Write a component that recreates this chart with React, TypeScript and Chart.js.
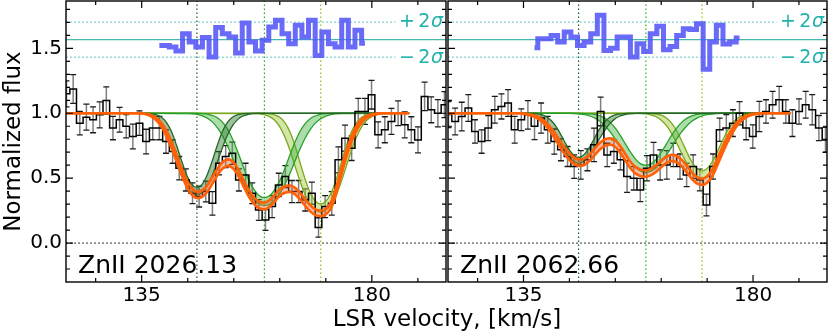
import React, { useEffect, useRef } from "react";
import { Chart, registerables } from "chart.js";

Chart.register(...registerables);

const FONT = "'DejaVu Sans', 'Liberation Sans', sans-serif";
Chart.defaults.font.family = FONT;
Chart.defaults.color = "#000";

// ---- axis ranges and ticks ----
const X_MIN = 120.2;
const X_MAX = 194.5;
const Y_MIN = -0.3;
const Y_MAX = 1.865;
const xMajorTicks = [135, 180];
const xMinorTicks = [126, 144, 153, 162, 171, 189];
const yMajorTicks = [0, 0.5, 1.0, 1.5];
const yMinorTicks = [-0.2, -0.1, 0.1, 0.2, 0.3, 0.4, 0.6, 0.7, 0.8, 0.9, 1.1, 1.2, 1.3, 1.4, 1.6, 1.7, 1.8];

const xTitle = "LSR velocity, [km/s]";
const yTitle = "Normalized flux";
const panelLabels = ["ZnII 2026.13", "ZnII 2062.66"];
const sigmaSigns = ["+", "\u2212"];

// ---- observed spectrum (pixel velocities, flux, 1-sigma error) ----
const velocity = [
  120.3, 121.6, 122.9, 124.19, 125.49, 126.79, 128.08, 129.38, 130.68, 131.97,
  133.27, 134.57, 135.86, 137.16, 138.45, 139.75, 141.05, 142.34, 143.64, 144.94,
  146.23, 147.53, 148.83, 150.12, 151.42, 152.72, 154.01, 155.31, 156.61, 157.9,
  159.2, 160.5, 161.79, 163.09, 164.38, 165.68, 166.98, 168.27, 169.57, 170.87,
  172.16, 173.46, 174.76, 176.05, 177.35, 178.65, 179.94, 181.24, 182.54, 183.83,
  185.13, 186.43, 187.72, 189.02, 190.32, 191.61, 192.91, 194.2, 195.5,
];
const fluxZn2026 = [
  1.15, 1.187, 0.924, 0.97, 0.95, 0.988, 1.099, 0.886, 0.95, 0.9,
  0.821, 0.924, 0.782, 0.886, 0.886, 0.782, 0.705, 0.577, 0.486, 0.384,
  0.358, 0.397, 0.306, 0.615, 0.666, 0.692, 0.486, 0.525, 0.384, 0.255,
  0.178, 0.281, 0.448, 0.512, 0.397, 0.397, 0.332, 0.384, 0.12, 0.281,
  0.306, 0.641, 0.808, 0.731, 1.014, 1.014, 1.143, 0.834, 0.873, 0.937,
  1.0, 0.911, 0.873, 0.795, 1.13, 1.027, 1.0, 1.066, 1.02,
];
const errZn2026 = [
  0.1, 0.11, 0.09, 0.1, 0.1, 0.1, 0.105, 0.09, 0.095, 0.09,
  0.095, 0.095, 0.095, 0.09, 0.09, 0.09, 0.09, 0.09, 0.085, 0.08,
  0.08, 0.08, 0.09, 0.09, 0.085, 0.085, 0.085, 0.09, 0.08, 0.08,
  0.08, 0.085, 0.09, 0.085, 0.085, 0.085, 0.085, 0.085, 0.075, 0.085,
  0.09, 0.1, 0.1, 0.095, 0.1, 0.1, 0.11, 0.1, 0.1, 0.1,
  0.095, 0.1, 0.1, 0.1, 0.11, 0.1, 0.105, 0.1, 0.1,
];
const fluxZn2062 = [
  0.99, 0.937, 0.975, 1.04, 0.86, 0.782, 0.886, 1.027, 1.053, 1.079,
  0.873, 0.95, 0.988, 0.9, 0.963, 0.873, 0.782, 0.718, 0.667, 0.589,
  0.602, 0.641, 0.757, 1.014, 0.679, 0.705, 0.641, 0.512, 0.499, 0.409,
  0.576, 0.679, 0.602, 0.602, 0.679, 0.589, 0.525, 0.589, 0.486, 0.293,
  0.589, 0.873, 0.886, 0.924, 1.0, 0.886, 0.821, 0.975, 1.014, 1.066,
  1.104, 1.014, 0.924, 1.014, 1.066, 1.027, 0.886, 0.795, 0.85,
];
const errZn2062 = [
  0.1, 0.103, 0.11, 0.103, 0.09, 0.09, 0.097, 0.103, 0.097, 0.103,
  0.103, 0.084, 0.11, 0.103, 0.116, 0.103, 0.097, 0.084, 0.077, 0.09,
  0.11, 0.084, 0.129, 0.11, 0.09, 0.09, 0.077, 0.122, 0.09, 0.09,
  0.097, 0.097, 0.116, 0.11, 0.09, 0.097, 0.09, 0.09, 0.084, 0.084,
  0.097, 0.09, 0.103, 0.103, 0.09, 0.09, 0.09, 0.116, 0.09, 0.103,
  0.103, 0.09, 0.103, 0.097, 0.103, 0.116, 0.097, 0.097, 0.1,
];

// ---- residuals (shifted to the top strip) ----
const residVelZn2026 = velocity.slice(14, 46);
const residZn2026 = [
  1.523, 1.523, 1.51, 1.479, 1.613, 1.549, 1.51, 1.583, 1.433, 1.66,
  1.613, 1.587, 1.464, 1.695, 1.549, 1.48, 1.562, 1.665, 1.716, 1.613,
  1.536, 1.678, 1.587, 1.716, 1.446, 1.626, 1.536, 1.51, 1.716, 1.51,
  1.639, 1.54,
];
const residVelZn2062 = velocity.slice(13, 45);
const residZn2062 = [
  1.505, 1.575, 1.575, 1.6, 1.549, 1.626, 1.587, 1.523, 1.549, 1.613,
  1.755, 1.484, 1.5, 1.587, 1.587, 1.433, 1.536, 1.475, 1.613, 1.67,
  1.49, 1.515, 1.6, 1.652, 1.645, 1.69, 1.34, 1.549, 1.678, 1.533,
  1.549, 1.58,
];
const sigmaLevels = [1.432, 1.567, 1.702];
const sigmaDottedEnd = 184.6;

// ---- component centres ----
const compCenters = [145.8, 159.0, 170.0];

// ---- total model band ----
const modelVel = [
  120.2, 134, 135, 136, 137, 138, 139, 140, 141, 142, 143, 144, 145, 146, 147, 148, 149,
  150, 151, 152, 153, 154, 155, 156, 157, 158, 159, 160, 161, 162, 163, 164, 165, 166,
  167, 168, 169, 170, 171, 172, 173, 174, 175, 176, 177, 178, 179, 180, 181, 182, 187.3,
];
const modelLoZn2026 = [
  1.0, 1.0, 0.997, 0.99, 0.972, 0.94, 0.89, 0.808, 0.715, 0.61, 0.505, 0.42, 0.365, 0.345,
  0.36, 0.405, 0.47, 0.535, 0.58, 0.595, 0.57, 0.51, 0.43, 0.355, 0.3, 0.268, 0.26, 0.278,
  0.32, 0.365, 0.388, 0.393, 0.375, 0.335, 0.285, 0.242, 0.215, 0.207, 0.221, 0.267, 0.375,
  0.52, 0.66, 0.778, 0.867, 0.928, 0.965, 0.984, 0.994, 1.0, 1.0,
];
const modelHiZn2026 = [
  1.0, 1.0, 0.999, 0.996, 0.984, 0.96, 0.92, 0.852, 0.765, 0.66, 0.555, 0.47, 0.415, 0.395,
  0.41, 0.455, 0.52, 0.585, 0.63, 0.645, 0.62, 0.56, 0.48, 0.405, 0.35, 0.318, 0.312, 0.332,
  0.37, 0.415, 0.438, 0.443, 0.425, 0.385, 0.335, 0.288, 0.259, 0.251, 0.265, 0.313, 0.425,
  0.57, 0.71, 0.822, 0.903, 0.952, 0.979, 0.992, 0.998, 1.0, 1.0,
];
const modelLoZn2062 = [
  1.0, 1.0, 0.996, 0.987, 0.975, 0.954, 0.92, 0.875, 0.815, 0.752, 0.69, 0.64, 0.607, 0.595,
  0.603, 0.635, 0.68, 0.723, 0.75, 0.757, 0.74, 0.695, 0.635, 0.575, 0.535, 0.515, 0.51, 0.523,
  0.55, 0.585, 0.615, 0.63, 0.623, 0.593, 0.545, 0.495, 0.459, 0.448, 0.465, 0.515, 0.6,
  0.692, 0.78, 0.854, 0.913, 0.952, 0.977, 0.99, 0.997, 1.0, 1.0,
];
const modelHiZn2062 = [
  1.0, 1.0, 0.998, 0.993, 0.985, 0.97, 0.944, 0.905, 0.855, 0.798, 0.74, 0.69, 0.657, 0.645,
  0.653, 0.685, 0.73, 0.773, 0.8, 0.807, 0.79, 0.745, 0.685, 0.625, 0.585, 0.565, 0.56, 0.573,
  0.6, 0.635, 0.665, 0.68, 0.673, 0.643, 0.595, 0.545, 0.509, 0.498, 0.515, 0.565, 0.65,
  0.738, 0.82, 0.886, 0.937, 0.968, 0.987, 0.996, 0.999, 1.0, 1.0,
];

// ---- individual components (lower / upper envelopes) ----
const comp1Vel = [
  133.8, 134.8, 135.8, 136.8, 137.8, 138.8, 139.8, 140.8, 141.8, 142.8, 143.8, 144.8, 145.8,
  146.8, 147.8, 148.8, 149.8, 150.8, 151.8, 152.8, 153.8, 154.8, 155.8, 156.8, 157.8, 187.3,
];
const comp2Vel = [
  134.5, 144, 145, 146, 147, 148, 149, 150, 151, 152, 153, 154, 155, 156, 157, 158, 159,
  160, 161, 162, 163, 164, 165, 166, 167, 168, 169, 170, 171, 172, 173, 174, 187.3,
];
const comp3Vel = [
  134.5, 157, 158, 159, 160, 161, 162, 163, 164, 165, 166, 167, 168, 169, 170, 171, 172,
  173, 174, 175, 176, 177, 178, 179, 180, 181, 182, 183, 187.3,
];

const c1LoZn2026 = [0.999, 0.997, 0.991, 0.979, 0.953, 0.907, 0.834, 0.737, 0.627, 0.522, 0.439, 0.387, 0.37, 0.387, 0.439, 0.522, 0.627, 0.737, 0.834, 0.907, 0.953, 0.979, 0.991, 0.997, 0.999, 1.0];
const c1HiZn2026 = [1.0, 1.0, 0.999, 0.997, 0.99, 0.972, 0.932, 0.861, 0.755, 0.634, 0.525, 0.452, 0.427, 0.452, 0.525, 0.634, 0.755, 0.861, 0.932, 0.972, 0.99, 0.997, 0.999, 1.0, 1.0, 1.0];
const c2LoZn2026 = [1.0, 0.998, 0.995, 0.989, 0.978, 0.958, 0.926, 0.877, 0.811, 0.728, 0.634, 0.538, 0.452, 0.381, 0.33, 0.299, 0.289, 0.299, 0.33, 0.381, 0.452, 0.538, 0.634, 0.728, 0.811, 0.877, 0.926, 0.958, 0.978, 0.989, 0.995, 0.998, 1.0];
const c2HiZn2026 = [1.0, 1.0, 1.0, 0.999, 0.997, 0.992, 0.981, 0.96, 0.922, 0.863, 0.78, 0.68, 0.575, 0.481, 0.409, 0.365, 0.35, 0.365, 0.409, 0.481, 0.575, 0.68, 0.78, 0.863, 0.922, 0.96, 0.981, 0.992, 0.997, 0.999, 1.0, 1.0, 1.0];
const c3LoZn2026 = [1.0, 0.998, 0.996, 0.989, 0.974, 0.946, 0.895, 0.817, 0.713, 0.591, 0.47, 0.369, 0.296, 0.253, 0.239, 0.253, 0.296, 0.369, 0.47, 0.591, 0.713, 0.817, 0.895, 0.946, 0.974, 0.989, 0.996, 0.998, 1.0];
const c3HiZn2026 = [1.0, 1.0, 1.0, 0.999, 0.996, 0.988, 0.969, 0.928, 0.856, 0.748, 0.616, 0.487, 0.384, 0.322, 0.301, 0.322, 0.384, 0.487, 0.616, 0.748, 0.856, 0.928, 0.969, 0.988, 0.996, 0.999, 1.0, 1.0, 1.0];

const c1LoZn2062 = [1.0, 0.998, 0.996, 0.989, 0.977, 0.953, 0.915, 0.861, 0.796, 0.727, 0.668, 0.628, 0.614, 0.628, 0.668, 0.727, 0.796, 0.861, 0.915, 0.953, 0.977, 0.989, 0.996, 0.998, 1.0, 1.0];
const c1HiZn2062 = [1.0, 1.0, 1.0, 0.998, 0.995, 0.986, 0.966, 0.929, 0.872, 0.8, 0.729, 0.678, 0.659, 0.678, 0.729, 0.8, 0.872, 0.929, 0.966, 0.986, 0.995, 0.998, 1.0, 1.0, 1.0, 1.0];
const c2LoZn2062 = [1.0, 0.999, 0.997, 0.994, 0.989, 0.979, 0.963, 0.938, 0.902, 0.856, 0.8, 0.738, 0.677, 0.623, 0.58, 0.554, 0.544, 0.554, 0.58, 0.623, 0.677, 0.738, 0.8, 0.856, 0.902, 0.938, 0.963, 0.979, 0.989, 0.994, 0.997, 0.999, 1.0];
const c2HiZn2062 = [1.0, 1.0, 1.0, 0.999, 0.998, 0.996, 0.991, 0.98, 0.961, 0.93, 0.885, 0.828, 0.762, 0.698, 0.645, 0.61, 0.598, 0.61, 0.645, 0.698, 0.762, 0.828, 0.885, 0.93, 0.961, 0.98, 0.991, 0.996, 0.998, 0.999, 1.0, 1.0, 1.0];
const c3LoZn2062 = [1.0, 0.999, 0.998, 0.995, 0.987, 0.973, 0.947, 0.906, 0.847, 0.773, 0.691, 0.614, 0.551, 0.51, 0.497, 0.51, 0.551, 0.614, 0.691, 0.773, 0.847, 0.906, 0.947, 0.973, 0.987, 0.995, 0.998, 0.999, 1.0];
const c3HiZn2062 = [1.0, 1.0, 1.0, 0.999, 0.998, 0.994, 0.985, 0.964, 0.926, 0.867, 0.789, 0.703, 0.626, 0.574, 0.555, 0.574, 0.626, 0.703, 0.789, 0.867, 0.926, 0.964, 0.985, 0.994, 0.998, 0.999, 1.0, 1.0, 1.0];

// ---- styles ----
const compStyles = [
  { line: "rgb(35,105,35)", fill: "rgba(45,115,45,0.45)", vline: "#1d5a1d" },
  { line: "rgb(40,160,40)", fill: "rgba(60,175,60,0.42)", vline: "#1fae1f" },
  { line: "rgb(120,168,30)", fill: "rgba(170,205,80,0.5)", vline: "#8cc21f" },
];

type Panel = {
  label: string;
  flux: number[];
  err: number[];
  residVel: number[];
  resid: number[];
  modelLo: number[];
  modelHi: number[];
  comps: { vel: number[]; lo: number[]; hi: number[] }[];
  showY: boolean;
};

const panels: Panel[] = [
  {
    label: panelLabels[0],
    flux: fluxZn2026,
    err: errZn2026,
    residVel: residVelZn2026,
    resid: residZn2026,
    modelLo: modelLoZn2026,
    modelHi: modelHiZn2026,
    comps: [
      { vel: comp1Vel, lo: c1LoZn2026, hi: c1HiZn2026 },
      { vel: comp2Vel, lo: c2LoZn2026, hi: c2HiZn2026 },
      { vel: comp3Vel, lo: c3LoZn2026, hi: c3HiZn2026 },
    ],
    showY: true,
  },
  {
    label: panelLabels[1],
    flux: fluxZn2062,
    err: errZn2062,
    residVel: residVelZn2062,
    resid: residZn2062,
    modelLo: modelLoZn2062,
    modelHi: modelHiZn2062,
    comps: [
      { vel: comp1Vel, lo: c1LoZn2062, hi: c1HiZn2062 },
      { vel: comp2Vel, lo: c2LoZn2062, hi: c2HiZn2062 },
      { vel: comp3Vel, lo: c3LoZn2062, hi: c3HiZn2062 },
    ],
    showY: false,
  },
];

const pts = (xs: number[], ys: number[]) => xs.map((x, i) => ({ x, y: ys[i] }));

function decorPlugin(p: Panel) {
  return {
    id: "decor",
    beforeDatasetsDraw(chart: any) {
      const { ctx, chartArea: a, scales } = chart;
      const xs = scales.x;
      const ys = scales.y;
      ctx.save();
      ctx.beginPath();
      ctx.rect(a.left, a.top, a.right - a.left, a.bottom - a.top);
      ctx.clip();
      for (let i = 0; i < velocity.length; i++) {
        const px = xs.getPixelForValue(velocity[i]);
        const top = ys.getPixelForValue(p.flux[i] + p.err[i]);
        const bot = ys.getPixelForValue(p.flux[i] - p.err[i]);
        ctx.strokeStyle = "rgba(120,120,120,0.95)";
        ctx.lineWidth = 1.5;
        ctx.beginPath();
        ctx.moveTo(px, top);
        ctx.lineTo(px, bot);
        ctx.stroke();
        ctx.strokeStyle = "#1a1a1a";
        ctx.lineWidth = 1.3;
        ctx.beginPath();
        ctx.moveTo(px - 3, top);
        ctx.lineTo(px + 3, top);
        ctx.moveTo(px - 3, bot);
        ctx.lineTo(px + 3, bot);
        ctx.stroke();
      }
      ctx.restore();
    },
    afterDatasetsDraw(chart: any) {
      const { ctx, chartArea: a, scales } = chart;
      const xs = scales.x;
      const ys = scales.y;
      ctx.save();
      ctx.strokeStyle = "#000";
      ctx.lineWidth = 1.2;
      const tickX = (vals: number[], len: number) => {
        for (const v of vals) {
          const px = xs.getPixelForValue(v);
          ctx.beginPath();
          ctx.moveTo(px, a.bottom);
          ctx.lineTo(px, a.bottom - len);
          ctx.moveTo(px, a.top);
          ctx.lineTo(px, a.top + len);
          ctx.stroke();
        }
      };
      const tickY = (vals: number[], len: number) => {
        for (const v of vals) {
          const py = ys.getPixelForValue(v);
          ctx.beginPath();
          ctx.moveTo(a.left, py);
          ctx.lineTo(a.left + len, py);
          ctx.moveTo(a.right, py);
          ctx.lineTo(a.right - len, py);
          ctx.stroke();
        }
      };
      tickX(xMajorTicks, 7);
      tickX(xMinorTicks, 4);
      tickY(yMajorTicks, 7);
      tickY(yMinorTicks, 4);
      ctx.lineWidth = 1.4;
      ctx.strokeRect(a.left, a.top, a.right - a.left, a.bottom - a.top);

      // panel label
      ctx.fillStyle = "#000";
      ctx.font = `25px ${FONT}`;
      ctx.textAlign = "left";
      ctx.textBaseline = "alphabetic";
      ctx.fillText(p.label, a.left + 12, 273);

      // sigma labels
      ctx.fillStyle = "#20b2aa";
      const drawSigma = (sign: string, baseline: number) => {
        const right = a.right - 3;
        ctx.font = `italic 19px ${FONT}`;
        const wS = ctx.measureText("\u03c3").width;
        ctx.fillText("\u03c3", right - wS, baseline);
        ctx.font = `19px ${FONT}`;
        const w2 = ctx.measureText("2").width;
        ctx.fillText("2", right - wS - w2 - 0.5, baseline);
        const wSign = ctx.measureText(sign).width;
        ctx.fillText(sign, right - wS - w2 - wSign - 4, baseline);
      };
      drawSigma(sigmaSigns[0], 27);
      drawSigma(sigmaSigns[1], 63);
      ctx.restore();
    },
  };
}

function buildConfig(p: Panel): any {
  const datasets: any[] = [];
  const base = { pointRadius: 0, pointHoverRadius: 0, fill: false, borderWidth: 1 };

  // zero line
  datasets.push({ ...base, data: pts([X_MIN, X_MAX], [0, 0]), borderColor: "#333", borderDash: [2, 2], order: 20 });
  // component centre markers
  compCenters.forEach((c, i) => {
    datasets.push({
      ...base,
      data: pts([c, c], [Y_MIN, Y_MAX]),
      borderColor: compStyles[i].vline,
      borderWidth: 1.2,
      borderDash: [1.5, 2.5],
      order: 19,
    });
  });
  // sigma strip lines
  datasets.push({ ...base, data: pts([X_MIN, X_MAX], [sigmaLevels[1], sigmaLevels[1]]), borderColor: "#45b9b0", borderWidth: 1.2, order: 18 });
  datasets.push({ ...base, data: pts([X_MIN, sigmaDottedEnd], [sigmaLevels[0], sigmaLevels[0]]), borderColor: "#86d6d2", borderWidth: 1.3, borderDash: [2, 2], order: 18 });
  datasets.push({ ...base, data: pts([X_MIN, sigmaDottedEnd], [sigmaLevels[2], sigmaLevels[2]]), borderColor: "#86d6d2", borderWidth: 1.3, borderDash: [2, 2], order: 18 });

  // components (under data)
  p.comps.forEach((c, i) => {
    datasets.push({
      ...base,
      data: pts(c.vel, c.lo),
      borderColor: compStyles[i].line,
      borderWidth: 1.3,
      cubicInterpolationMode: "monotone",
      order: 10,
    });
    datasets.push({
      ...base,
      data: pts(c.vel, c.hi),
      borderColor: compStyles[i].line,
      borderWidth: 1.3,
      cubicInterpolationMode: "monotone",
      fill: "-1",
      backgroundColor: compStyles[i].fill,
      order: 10,
    });
  });

  // observed spectrum
  datasets.push({ ...base, data: pts(velocity, p.flux), borderColor: "#000", borderWidth: 1.5, stepped: "middle", order: 8 });

  // total model band
  datasets.push({
    ...base,
    data: pts(modelVel, p.modelLo),
    borderColor: "#ff6008",
    borderWidth: 2.6,
    cubicInterpolationMode: "monotone",
    order: 4,
  });
  datasets.push({
    ...base,
    data: pts(modelVel, p.modelHi),
    borderColor: "#ff6008",
    borderWidth: 2.6,
    cubicInterpolationMode: "monotone",
    fill: "-1",
    backgroundColor: "rgba(225,105,45,0.42)",
    order: 4,
  });

  // residuals
  datasets.push({
    ...base,
    data: pts(p.residVel, p.resid),
    borderColor: "rgba(85,85,248,0.88)",
    borderWidth: 5,
    stepped: "middle",
    order: 2,
  });

  return {
    type: "line",
    data: { datasets },
    options: {
      animation: false,
      responsive: false,
      maintainAspectRatio: false,
      devicePixelRatio: 1,
      events: [],
      layout: { padding: p.showY ? { left: 0, right: 1, top: 1, bottom: 0 } : { left: 1, right: 3, top: 1, bottom: 0 } },
      plugins: { legend: { display: false }, tooltip: { enabled: false } },
      scales: {
        x: {
          type: "linear",
          min: X_MIN,
          max: X_MAX,
          afterBuildTicks: (s: any) => {
            s.ticks = xMajorTicks.map((v) => ({ value: v }));
          },
          afterFit: (s: any) => {
            s.height = 50;
            s.paddingLeft = 0;
            s.paddingRight = 0;
          },
          ticks: {
            font: { family: FONT, size: 20 },
            color: "#000",
            padding: 2,
            maxRotation: 0,
            autoSkip: false,
            callback: (v: any) => String(v),
          },
          grid: { display: false, drawTicks: false },
          border: { display: false },
        },
        y: {
          type: "linear",
          display: p.showY,
          min: Y_MIN,
          max: Y_MAX,
          afterBuildTicks: (s: any) => {
            s.ticks = yMajorTicks.map((v) => ({ value: v }));
          },
          afterFit: (s: any) => {
            s.width = p.showY ? 66 : 0;
            s.paddingTop = 0;
            s.paddingBottom = 0;
          },
          ticks: {
            font: { family: FONT, size: 20 },
            color: "#000",
            padding: 4,
            callback: (v: any) => Number(v).toFixed(1),
          },
          title: {
            display: p.showY,
            text: yTitle,
            font: { family: FONT, size: 23 },
            color: "#000",
            padding: 0,
          },
          grid: { display: false, drawTicks: false },
          border: { display: false },
        },
      },
    },
    plugins: [decorPlugin(p)],
  };
}

export default function App() {
  const leftRef = useRef<HTMLCanvasElement | null>(null);
  const rightRef = useRef<HTMLCanvasElement | null>(null);

  useEffect(() => {
    const charts: Chart[] = [];
    if (leftRef.current) charts.push(new Chart(leftRef.current, buildConfig(panels[0])));
    if (rightRef.current) charts.push(new Chart(rightRef.current, buildConfig(panels[1])));
    return () => charts.forEach((c) => c.destroy());
  }, []);

  return (
    <div style={{ position: "absolute", left: 0, top: 0, width: 830, height: 332, background: "#fff", overflow: "hidden" }}>
      <canvas ref={leftRef} width={447} height={332} style={{ position: "absolute", left: 0, top: 0, width: 447, height: 332 }} />
      <canvas ref={rightRef} width={383} height={332} style={{ position: "absolute", left: 447, top: 0, width: 383, height: 332 }} />
      <div
        style={{
          position: "absolute",
          left: 447,
          top: 305,
          transform: "translateX(-50%)",
          font: `23px ${FONT}`,
          lineHeight: "27px",
          whiteSpace: "nowrap",
          color: "#000",
        }}
      >
        {xTitle}
      </div>
    </div>
  );
}
